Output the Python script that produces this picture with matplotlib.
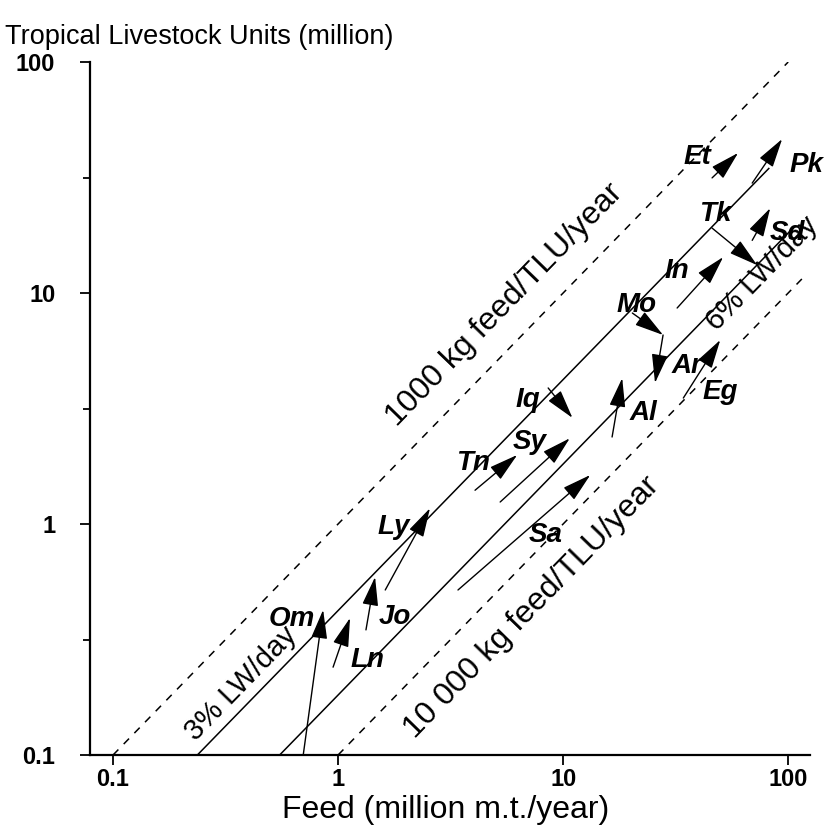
import matplotlib
matplotlib.use("Agg")
import matplotlib.pyplot as plt
import numpy as np

plt.rcParams['font.family'] = ['Liberation Sans', 'DejaVu Sans']

# Feed requirement lines: tonnes of feed per TLU per year
line_names = ['1000 kg feed/TLU/year', '3% LW/day', '6% LW/day', '10 000 kg feed/TLU/year']
feed_per_tlu = [1.0, 2.37, 5.5, 10.0]
line_x_start = [0.1, 0.237, 0.55, 1.0]
line_x_end = [100.0, 82.0, 105.0, 115.0]
line_styles = ['dashed', 'solid', 'solid', 'dashed']

# Text position for each line label (feed, TLU)
line_label_x = [5.52, 0.37, 77.0, 7.28]
line_label_y = [8.87, 0.203, 12.1, 0.437]

# Country trajectories: feed (million t/year) and TLU (million), earlier -> later
countries = ['Et', 'Pk', 'Tk', 'Sd', 'In', 'Mo', 'Ar', 'Al', 'Iq', 'Sy', 'Tn', 'Sa', 'Ly', 'Jo', 'Om', 'Ln']
feed_paths = [
    [45.9, 59.9],
    [69.2, 94.0],
    [45.9, 72.8],
    [69.2, 83.2],
    [32.1, 51.4],
    [20.3, 27.8, 25.6],
    [34.2, 49.9],
    [16.5, 18.3],
    [8.58, 11.0],
    [5.25, 10.7],
    [4.06, 6.25],
    [3.41, 13.2],
    [1.62, 2.56],
    [1.33, 1.46],
    [0.70, 0.858],
    [0.950, 1.13],
]
tlu_paths = [
    [31.5, 40.4],
    [29.9, 46.4],
    [19.1, 13.2],
    [16.9, 23.3],
    [8.61, 14.3],
    [8.19, 6.58, 4.08],
    [3.51, 6.26],
    [2.38, 4.28],
    [3.88, 2.88],
    [1.245, 2.35],
    [1.40, 1.99],
    [0.518, 1.63],
    [0.518, 1.17],
    [0.348, 0.590],
    [0.1, 0.425],
    [0.240, 0.392],
]

# Country label positions (feed, TLU)
label_names = ['Et', 'Pk', 'Tk', 'Sd', 'In', 'Mo', 'Ar', 'Eg', 'Al', 'Iq', 'Sy', 'Tn', 'Sa', 'Ly', 'Jo', 'Om', 'Ln']
label_x = [39.4, 120, 47.4, 99, 32.1, 21.1, 35.6, 49.9, 22.7, 6.99, 7.13, 3.98, 8.32, 1.76, 1.79, 0.625, 1.35]
label_y = [38.8, 35.8, 22.0, 18.2, 12.5, 8.87, 4.83, 3.73, 3.02, 3.44, 2.26, 1.84, 0.896, 0.97, 0.395, 0.388, 0.258]

x_ticks = [0.1, 1, 10, 100]
x_ticklabels = ['0.1', '1', '10', '100']
y_ticks = [0.1, 1, 10, 100]
y_ticklabels = ['0.1', '1', '10', '100']
y_minor = [0.316, 3.16, 31.6]

fig = plt.figure(figsize=(8.27, 8.34), dpi=100)
ax = fig.add_axes([90 / 827, 79 / 834, 720 / 827, 693 / 834])
ax.set_xscale('log')
ax.set_yscale('log')
ax.set_xlim(0.079, 125)
ax.set_ylim(0.1, 100)

for k, xs, xe, ls in zip(feed_per_tlu, line_x_start, line_x_end, line_styles):
    xx = np.array([xs, xe])
    if ls == 'dashed':
        ax.plot(xx, xx / k, color='black', lw=1.1, linestyle=(0, (5, 5)))
    else:
        ax.plot(xx, xx / k, color='black', lw=1.1)

line_label_sizes = [23, 21, 21, 23]
for name, lx, ly, fs in zip(line_names, line_label_x, line_label_y, line_label_sizes):
    ax.text(lx, ly, name, rotation=45.8, rotation_mode='anchor', ha='center', va='center',
            fontsize=fs)

for fx, ty in zip(feed_paths, tlu_paths):
    for i in range(len(fx) - 1):
        ax.annotate('', xy=(fx[i + 1], ty[i + 1]), xytext=(fx[i], ty[i]),
                    arrowprops=dict(arrowstyle='-|>,head_length=1.8,head_width=0.5',
                                    mutation_scale=10, lw=1.0, color='black',
                                    shrinkA=0, shrinkB=0))

for name, lx, ly in zip(label_names, label_x, label_y):
    ax.text(lx, ly, name, ha='center', va='center', fontsize=20,
            fontweight='bold', fontstyle='italic')

for side in ['top', 'right']:
    ax.spines[side].set_visible(False)
for side in ['left', 'bottom']:
    ax.spines[side].set_linewidth(1.6)

ax.set_xticks(x_ticks)
ax.set_xticklabels(x_ticklabels, fontsize=17, fontweight='bold')
ax.set_yticks(y_ticks)
ax.set_yticklabels(y_ticklabels, fontsize=17, fontweight='bold')
ax.set_yticks(y_minor, minor=True)
ax.xaxis.set_minor_locator(matplotlib.ticker.NullLocator())
ax.yaxis.set_minor_formatter(matplotlib.ticker.NullFormatter())
ax.tick_params(axis='both', which='major', length=7, width=1.3, direction='out')
ax.tick_params(axis='x', which='major', pad=2)
ax.tick_params(axis='y', which='major', pad=18)
ax.tick_params(axis='y', which='minor', length=5, width=1.3, direction='out')

fig.text(0.006, 1 - 37 / 834, 'Tropical Livestock Units (million)', va='center', ha='left',
         fontsize=19.5)
fig.text(446 / 827, 1 - 810 / 834, 'Feed (million m.t./year)', va='center', ha='center',
         fontsize=23)

fig.savefig('out.png', dpi=100)
